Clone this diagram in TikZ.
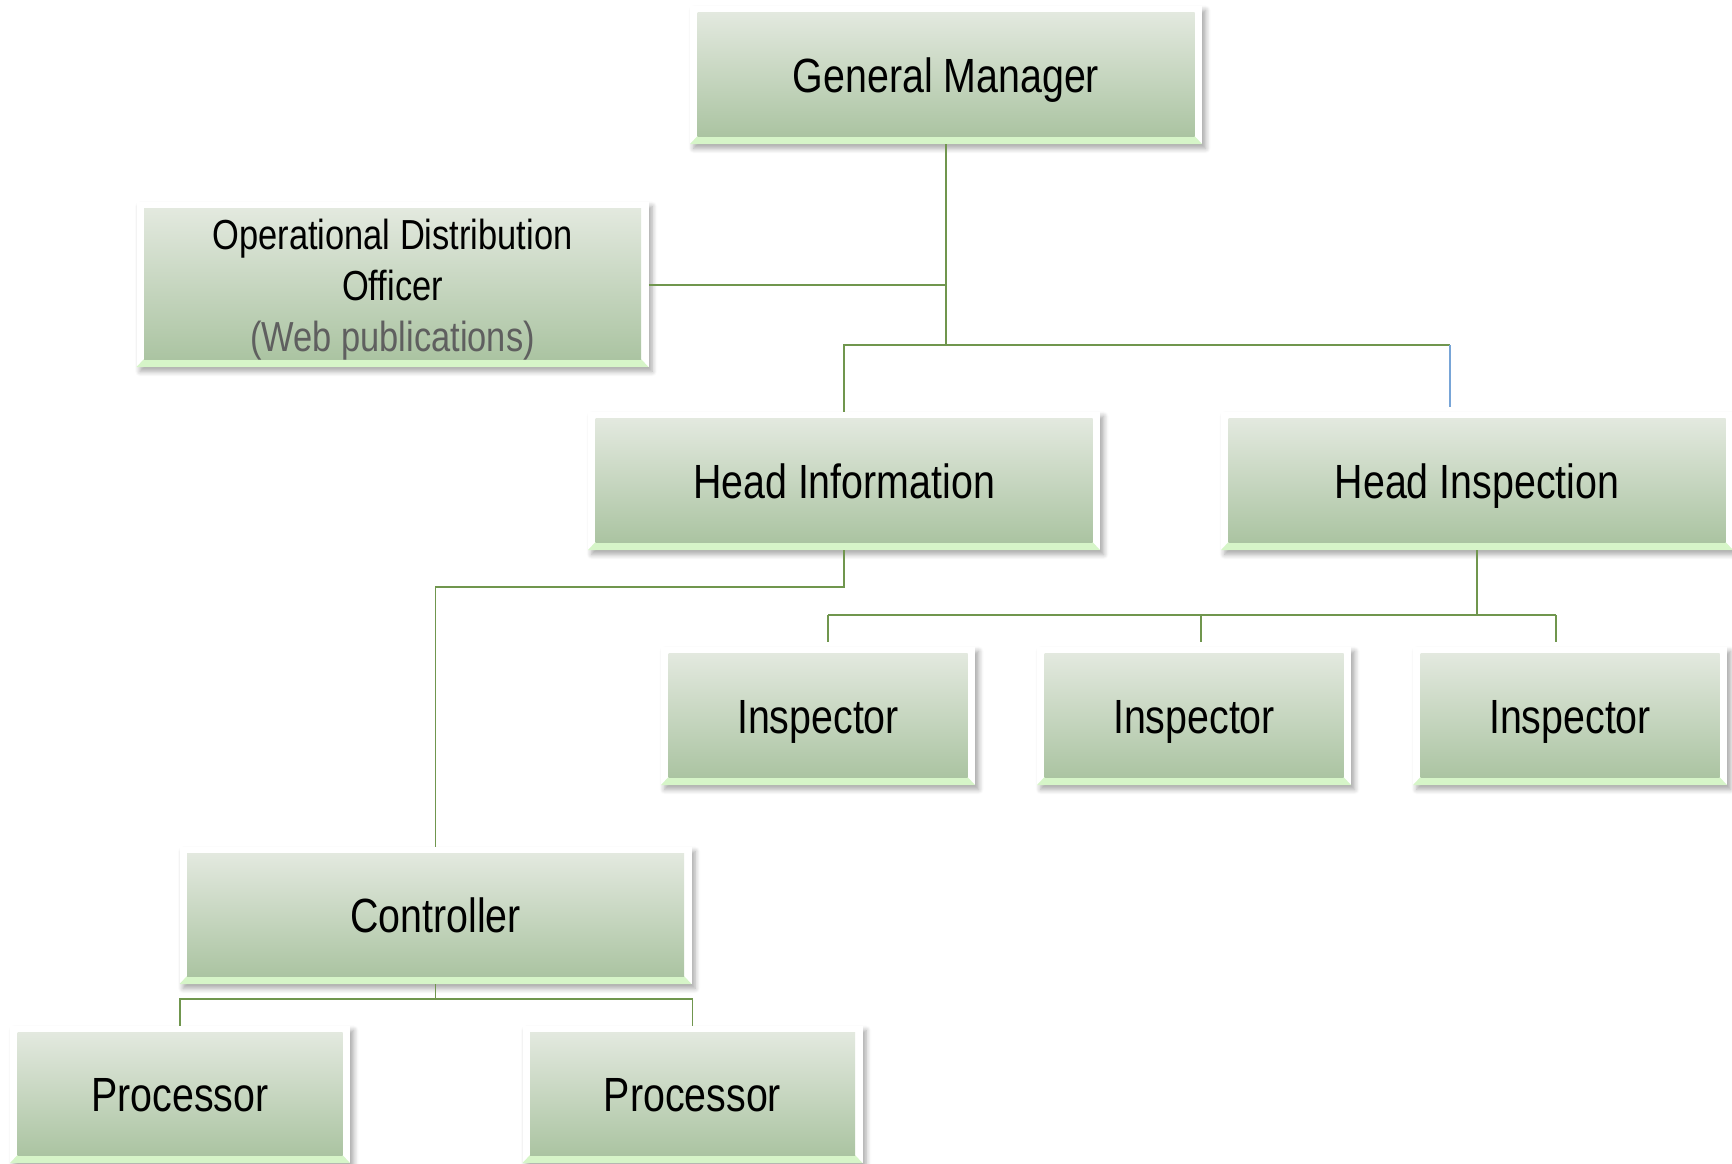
\documentclass[tikz,border=0pt]{standalone}
\usepackage{fontspec}
\setmainfont{Liberation Sans}[FakeStretch=0.82]
\usetikzlibrary{positioning, shadows.blur, calc}
\definecolor{boxtop}{RGB}{227,233,223}
\definecolor{boxbot}{RGB}{171,196,162}
\definecolor{bevel}{RGB}{214,245,200}
\definecolor{wirec}{RGB}{112,150,78}
\definecolor{bluewire}{RGB}{120,165,215}
\definecolor{subtext}{RGB}{95,95,95}

\begin{document}
\begin{tikzpicture}[x=0.5pt,y=-0.5pt,
  post/.style={rectangle, fill=white, inner sep=0pt,
    minimum width=256pt, minimum height=69pt,
    text height=17.2pt, text depth=0pt, font=\fontsize{24}{28}\selectfont,
    blur shadow={shadow xshift=1.8pt, shadow yshift=-2.2pt, shadow blur radius=2.5pt,
      shadow blur steps=6, shadow opacity=35},
    path picture={
      \fill[bevel] (path picture bounding box.south west) -- (path picture bounding box.south east)
        -- ([xshift=-3.75pt,yshift=4pt]path picture bounding box.south east)
        -- ([xshift=3.75pt,yshift=4pt]path picture bounding box.south west) -- cycle;
      \shade[top color=boxtop, bottom color=boxbot]
        ([xshift=3.75pt,yshift=4pt]path picture bounding box.south west)
        rectangle ([xshift=-3.75pt,yshift=-3pt]path picture bounding box.north east);
    }},
  wire/.style={draw=wirec, line width=0.9pt}]
\useasboundingbox (0,0) rectangle (1732,1163);

\node[post] (gm) at (946,75) {General Manager};
\node[post, minimum height=82.5pt, align=center, text height={}, text depth={},
  font=\fontsize{21}{25.5}\selectfont] (odo) at (392.5,284.5)
  {\rule{0pt}{20pt}Operational Distribution\\Officer\\{\color{subtext}(Web publications)}};
\node[post] (hinfo) at (844,481) {Head Information};
\node[post] (hinsp) at (1477,481) {Head Inspection};
\node[post, minimum width=157pt] (insa) at (818,716) {Inspector};
\node[post, minimum width=157pt] (insb) at (1194,716) {Inspector};
\node[post, minimum width=157pt] (insc) at (1570,716) {Inspector};
\node[post, minimum height=68.5pt] (ctrl) at (435.5,915.5) {Controller};
\node[post, minimum width=170pt, minimum height=68.5pt] (proca) at (180,1094.5) {Processor};
\node[post, minimum width=170pt, minimum height=68.5pt] (procb) at (692.5,1094.5) {Processor};

\coordinate (gmjoin) at (946,345);
\coordinate (odojoin) at (946,285);
\coordinate (hsbend) at (1450,345);
\coordinate (hsend) at (1450,407);
\coordinate (ctrlbend) at (435.5,587);
\coordinate (insjoin) at (1477,615);
\coordinate (procjoin) at (435.5,999);

\draw[wire] (gm.south) -- (gmjoin);
\draw[wire] (odo.east |- odojoin) -- (odojoin);
\draw[wire] (hinfo.north) -- (hinfo.north |- gmjoin) -- (hsbend);
\draw[bluewire, line width=0.9pt] (hsbend) -- (hsend);
\draw[wire] (hinfo.south) -- (hinfo.south |- ctrlbend) -- (ctrlbend) -- (ctrl.north);
\draw[wire] (hinsp.south) -- (insjoin);
\draw[wire] (828,615) -- (1556,615);
\draw[wire] (828,615) -- (828,642);
\draw[wire] (1201,615) -- (1201,642);
\draw[wire] (1556,615) -- (1556,642);
\draw[wire] (ctrl.south) -- (procjoin);
\draw[wire] (proca.north) -- (proca.north |- procjoin) -- (procb.north |- procjoin) -- (procb.north);
\end{tikzpicture}
\end{document}
